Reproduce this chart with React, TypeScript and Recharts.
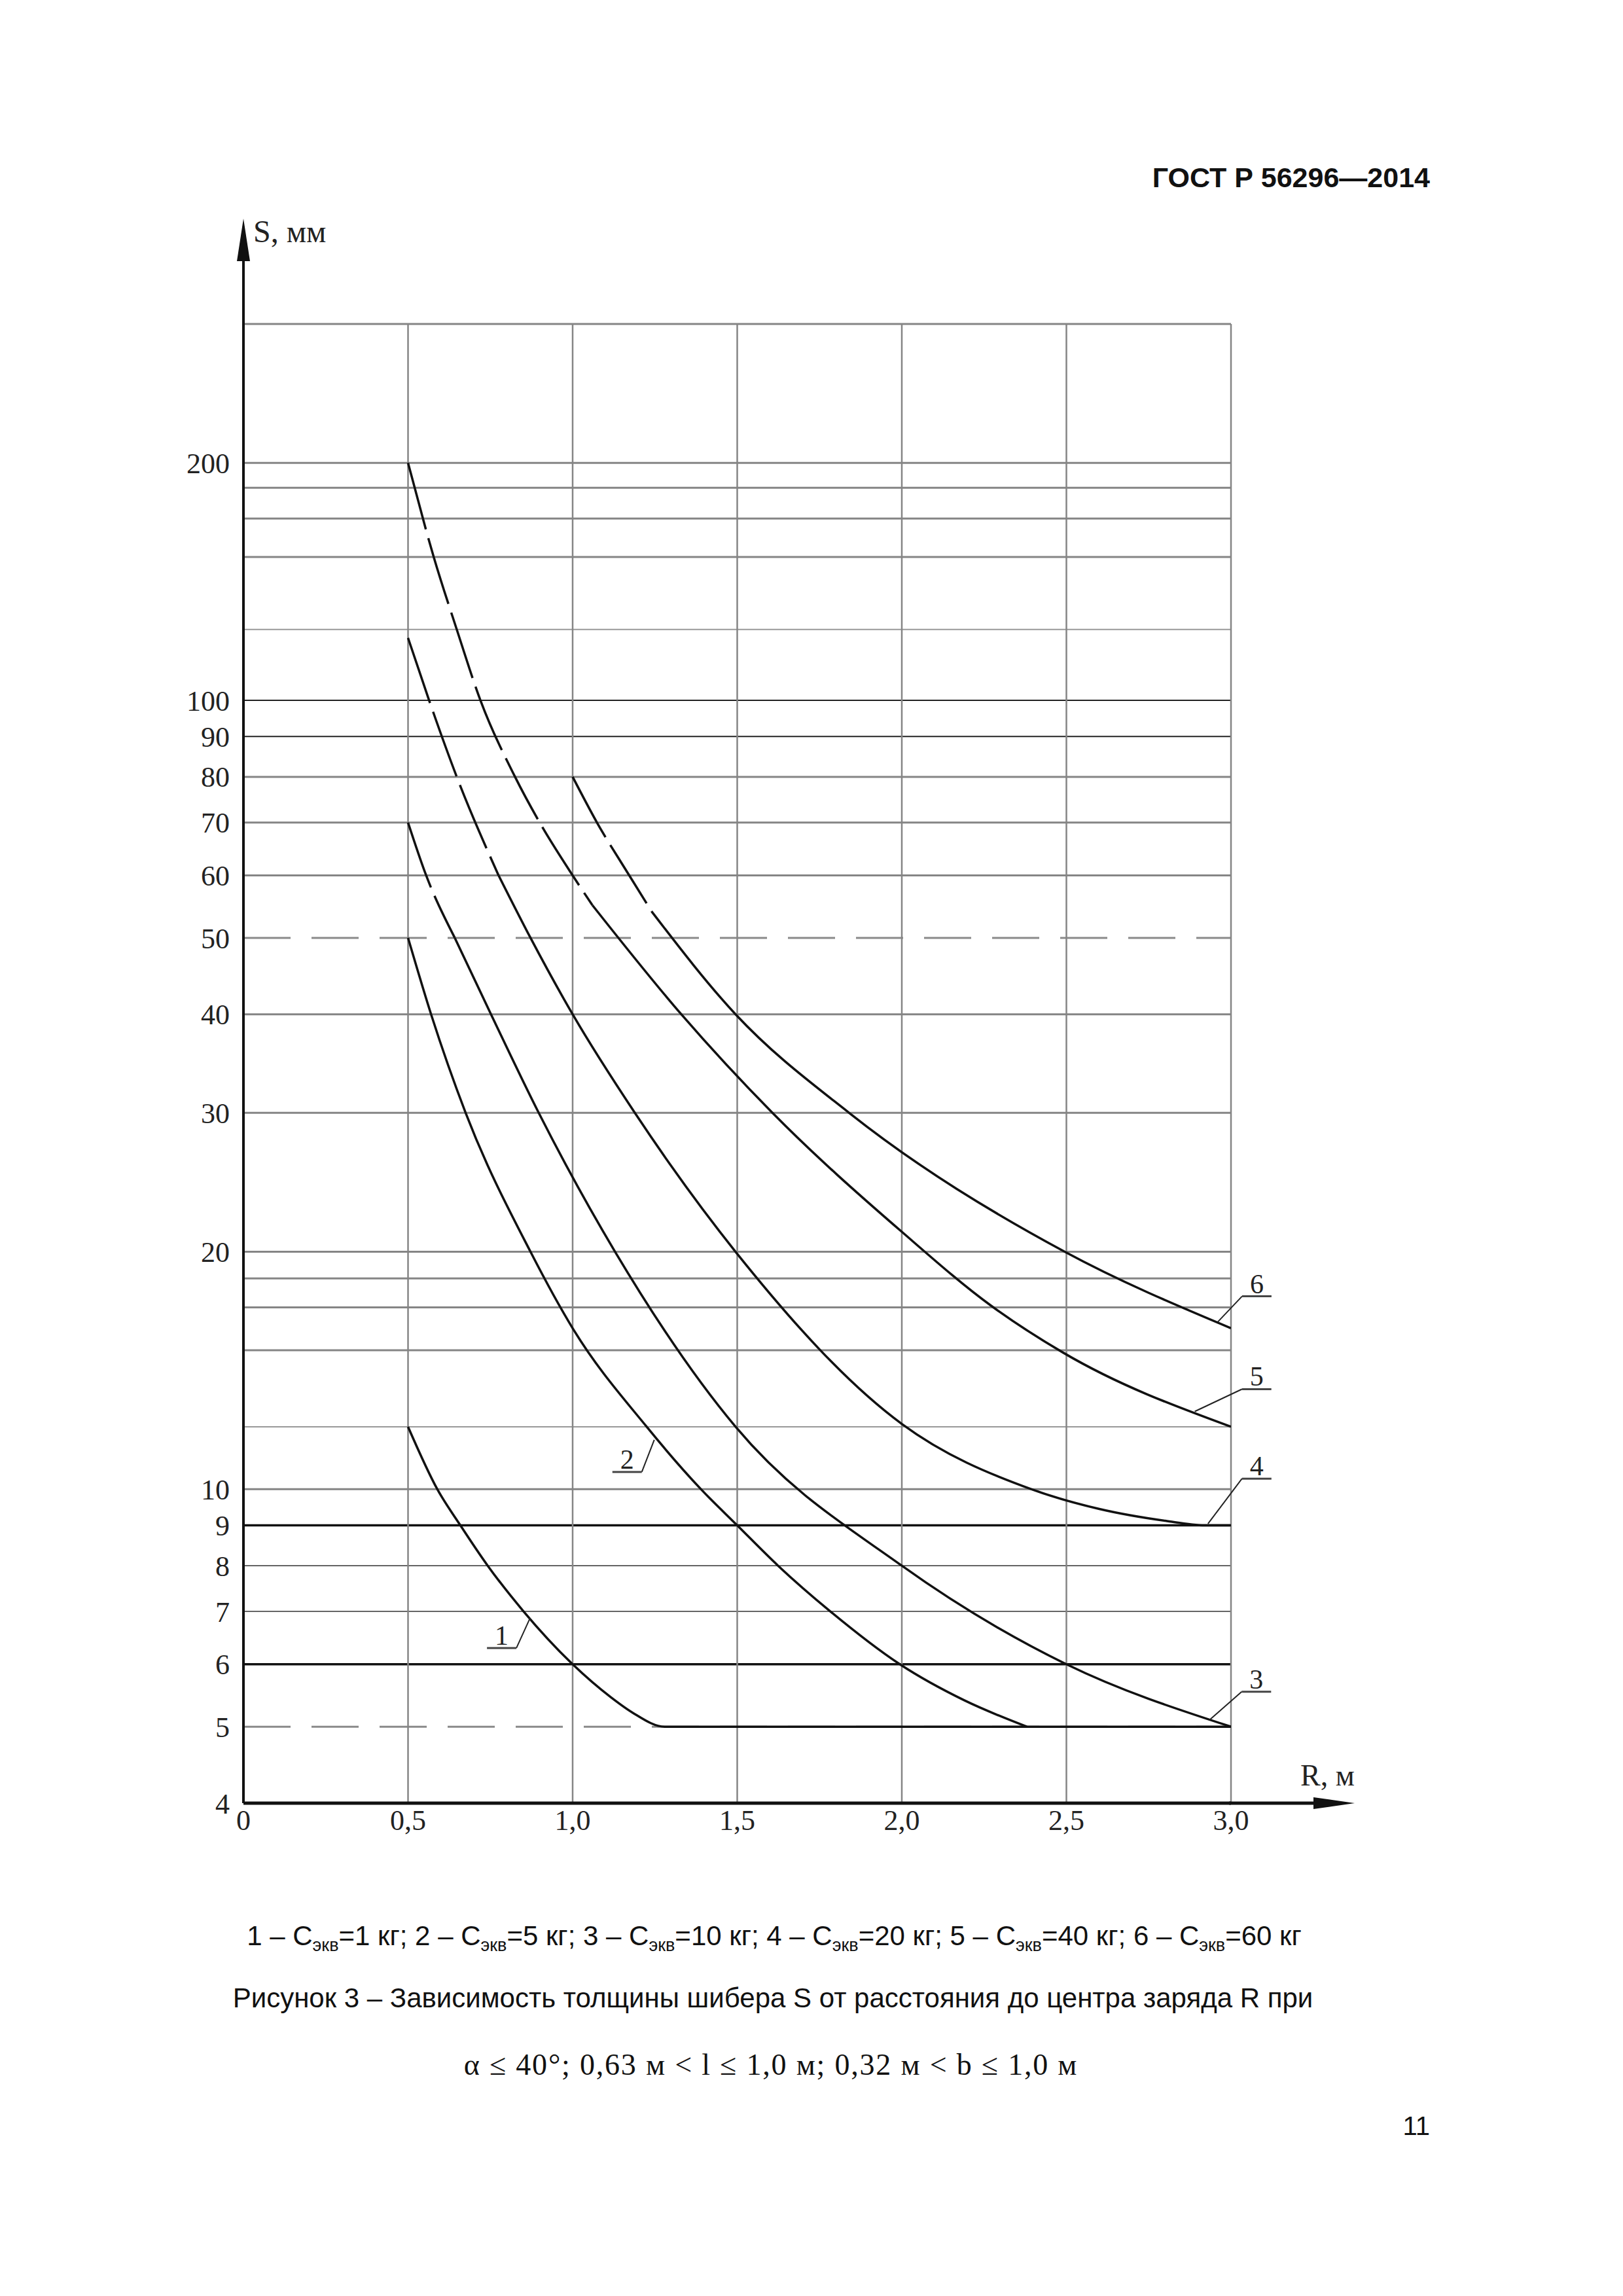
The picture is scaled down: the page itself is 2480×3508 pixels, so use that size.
import React from 'react';
import { LineChart, Line, XAxis, YAxis, ReferenceLine, ReferenceDot } from 'recharts';

// R, м
const rTicks = [0, 0.5, 1.0, 1.5, 2.0, 2.5, 3.0];
const rGrid = [0.5, 1.0, 1.5, 2.0, 2.5, 3.0];
// S, мм (log)
const sTicks = [4, 5, 6, 7, 8, 9, 10, 20, 30, 40, 50, 60, 70, 80, 90, 100, 200];
const sGrid = [6, 7, 8, 9, 10, 12, 15, 17, 18.5, 20, 30, 40, 60, 70, 80, 90, 100, 123, 152, 170, 186, 200, 300];
const sDashed = [5, 50];

// curves (dashed part at the top, then solid part)
const c1R = [0.5, 0.589, 0.659, 0.742, 0.851, 1.0, 1.116, 1.182, 1.28, 3.0];
const c1S = [12, 10, 9, 8, 7, 6, 5.45, 5.21, 5, 5];

const c2R = [0.5, 0.57, 0.675, 0.872, 1.0, 1.225, 1.39, 1.5, 1.624, 1.783, 1.994, 2.19, 2.38];
const c2S = [50, 40, 30, 20, 16, 12, 10, 9, 8, 7, 6, 5.4, 5];

const c3DashR = [0.5, 0.555, 0.642];
const c3DashS = [70, 60, 50];
const c3R = [0.642, 0.752, 0.897, 1.129, 1.495, 2.0, 2.5, 3.0];
const c3S = [50, 40, 30, 20, 12, 8, 6, 5];

const c4DashR = [0.5, 0.564, 0.648, 0.775];
const c4DashS = [120, 100, 80, 60];
const c4R = [0.775, 0.872, 1.0, 1.189, 1.495, 2.0, 2.394, 2.6, 2.8, 2.92, 3.0];
const c4S = [60, 50, 40, 30, 20, 12.1, 10, 9.44, 9.12, 9, 9];

const c5DashR = [0.5, 0.578, 0.648, 0.72, 0.825, 0.9, 1.0, 1.06];
const c5DashS = [200, 152, 123, 100, 80, 70, 60, 55];
const c5R = [1.06, 1.33, 1.607, 2.0, 2.27, 2.49, 3.0];
const c5S = [55, 40, 30, 21.2, 17.1, 14.9, 12];

const c6DashR = [1.0, 1.074, 1.172, 1.24];
const c6DashS = [80, 70, 60, 54];
const c6R = [1.24, 1.495, 1.84, 2.495, 3.0];
const c6S = [54, 40, 30, 20, 16];

// curve number labels: anchor point on curve
const labelNames = ['1', '2', '3', '4', '5', '6'];
const labelR = [0.871, 1.248, 2.935, 2.93, 2.89, 2.96];
const labelS = [6.87, 11.55, 5.1, 9.04, 12.55, 16.3];

// legend masses, кг
const masses = [1, 5, 10, 20, 40, 60];

const zip = (r: number[], s: number[]) => r.map((v, i) => ({ r: v, s: s[i] }));

// leader offsets from anchor (px): end of leader, underline side
const leaderOffs: Record<string, { dx: number; dy: number; side: number }> = {
  '1': { dx: -21, dy: 46, side: -1 },
  '2': { dx: -19, dy: 49, side: -1 },
  '3': { dx: 49, dy: -43, side: 1 },
  '4': { dx: 52, dy: -69, side: 1 },
  '5': { dx: 72, dy: -34, side: 1 },
  '6': { dx: 37, dy: -39, side: 1 },
};

const serif = '"Liberation Serif", "Times New Roman", serif';
const sans = '"Liberation Sans", Arial, sans-serif';

const fmtR = (v: number) => (v === 0 ? '0' : v.toFixed(1).replace('.', ','));

const gridStyle = (v: number) => {
  if (v === 90 || v === 100) return { stroke: '#222', strokeWidth: 2 };
  if (v === 9 || v === 6) return { stroke: '#111', strokeWidth: 3.5 };
  if (v === 8 || v === 7) return { stroke: '#333', strokeWidth: 1.5 };
  if (v === 123 || v === 12) return { stroke: '#999', strokeWidth: 2 };
  return { stroke: '#858585', strokeWidth: 3 };
};

const Leader = (props: any) => {
  const { cx, cy, name } = props;
  const o = leaderOffs[name];
  const ex = cx + o.dx;
  const ey = cy + o.dy;
  const ux = ex + o.side * 45;
  return (
    <g>
      <line x1={cx} y1={cy} x2={ex} y2={ey} stroke="#222" strokeWidth={2} />
      <line x1={ex} y1={ey} x2={ux} y2={ey} stroke="#444" strokeWidth={3} />
      <text x={(ex + ux) / 2} y={ey - 5} textAnchor="middle" fontFamily={serif} fontSize={42} fill="#222">
        {name}
      </text>
    </g>
  );
};

const curveProps = {
  type: 'monotone' as const,
  dataKey: 's',
  stroke: '#111',
  strokeWidth: 3.5,
  dot: false,
  isAnimationActive: false,
};
const dash = '105 14';

export default function App() {
  return (
    <div style={{ position: 'absolute', left: 0, top: 0, width: 2480, height: 3508, background: '#fff' }}>
      <div style={{ position: 'absolute', left: 0, top: 0 }}>
        <LineChart width={2480} height={2900} margin={{ top: 495, right: 599, bottom: 45, left: 252 }}>
          <XAxis
            type="number"
            dataKey="r"
            domain={[0, 3]}
            ticks={rTicks}
            interval={0}
            allowDataOverflow
            tickFormatter={fmtR}
            tickLine={false}
            tickMargin={4}
            height={100}
            axisLine={{ stroke: '#111', strokeWidth: 5 }}
            tick={{ fontFamily: serif, fontSize: 44, fill: '#222' }}
          />
          <YAxis
            type="number"
            scale="log"
            domain={[4, 300]}
            ticks={sTicks}
            interval={0}
            allowDataOverflow
            tickLine={false}
            tickMargin={15}
            width={120}
            axisLine={{ stroke: '#111', strokeWidth: 4 }}
            tick={{ fontFamily: serif, fontSize: 44, fill: '#222' }}
          />
          {sGrid.map((v) => (
            <ReferenceLine key={'h' + v} y={v} {...gridStyle(v)} />
          ))}
          {sDashed.map((v) => (
            <ReferenceLine key={'d' + v} y={v} stroke="#8a8a8a" strokeWidth={3} strokeDasharray="72 32" />
          ))}
          {rGrid.map((v) => (
            <ReferenceLine key={'v' + v} x={v} stroke="#858585" strokeWidth={2.5} />
          ))}
          <Line {...curveProps} data={zip(c1R, c1S)} />
          <Line {...curveProps} data={zip(c2R, c2S)} />
          <Line {...curveProps} data={zip(c3DashR, c3DashS)} strokeDasharray={dash} />
          <Line {...curveProps} data={zip(c3R, c3S)} />
          <Line {...curveProps} data={zip(c4DashR, c4DashS)} strokeDasharray={dash} />
          <Line {...curveProps} data={zip(c4R, c4S)} />
          <Line {...curveProps} data={zip(c5DashR, c5DashS)} strokeDasharray={dash} />
          <Line {...curveProps} data={zip(c5R, c5S)} />
          <Line {...curveProps} data={zip(c6DashR, c6DashS)} strokeDasharray={dash} />
          <Line {...curveProps} data={zip(c6R, c6S)} />
          {labelNames.map((n, i) => (
            <ReferenceDot
              key={'l' + n}
              x={labelR[i]}
              y={labelS[i]}
              r={0}
              shape={(p: any) => <Leader {...p} name={n} />}
            />
          ))}
        </LineChart>
      </div>
      <svg width={2480} height={3508} style={{ position: 'absolute', left: 0, top: 0, pointerEvents: 'none' }}>
        <text x={2185} y={286} textAnchor="end" fontFamily={sans} fontWeight="bold" fontSize={43} fill="#111">
          ГОСТ Р 56296—2014
        </text>
        {/* axis arrows */}
        <line x1={372} y1={497} x2={372} y2={380} stroke="#111" strokeWidth={4} />
        <polygon points="372,334 362,399 382,399" fill="#111" />
        <text x={387} y={370} fontFamily={serif} fontSize={48} fill="#222">
          S, мм
        </text>
        <line x1={1878} y1={2755} x2={2020} y2={2755} stroke="#111" strokeWidth={5} />
        <polygon points="2070,2755 2007,2746 2007,2764" fill="#111" />
        <text x={1987} y={2728} fontFamily={serif} fontSize={46} fill="#222">
          R, м
        </text>
        {/* captions */}
        <text x={1183} y={2972} textAnchor="middle" fontFamily={sans} fontSize={42} fill="#111">
          {masses.map((m, i) => (
            <React.Fragment key={m}>
              <tspan>{`${i + 1} – C`}</tspan>
              <tspan fontSize={27} dy={9}>экв</tspan>
              <tspan dy={-9}>{`=${m} кг${i < masses.length - 1 ? '; ' : ''}`}</tspan>
            </React.Fragment>
          ))}
        </text>
        <text x={1181} y={3067} textAnchor="middle" fontFamily={sans} fontSize={42} fill="#111">
          Рисунок 3 – Зависимость толщины шибера S от расстояния до центра заряда R при
        </text>
        <text x={1178} y={3170} textAnchor="middle" fontFamily={serif} fontSize={46} letterSpacing={1.8} fill="#111">
          α ≤ 40°; 0,63 м &lt; l ≤ 1,0 м; 0,32 м &lt; b ≤ 1,0 м
        </text>
        <text x={2185} y={3262} textAnchor="end" fontFamily={sans} fontSize={40} fill="#111">
          11
        </text>
      </svg>
    </div>
  );
}
